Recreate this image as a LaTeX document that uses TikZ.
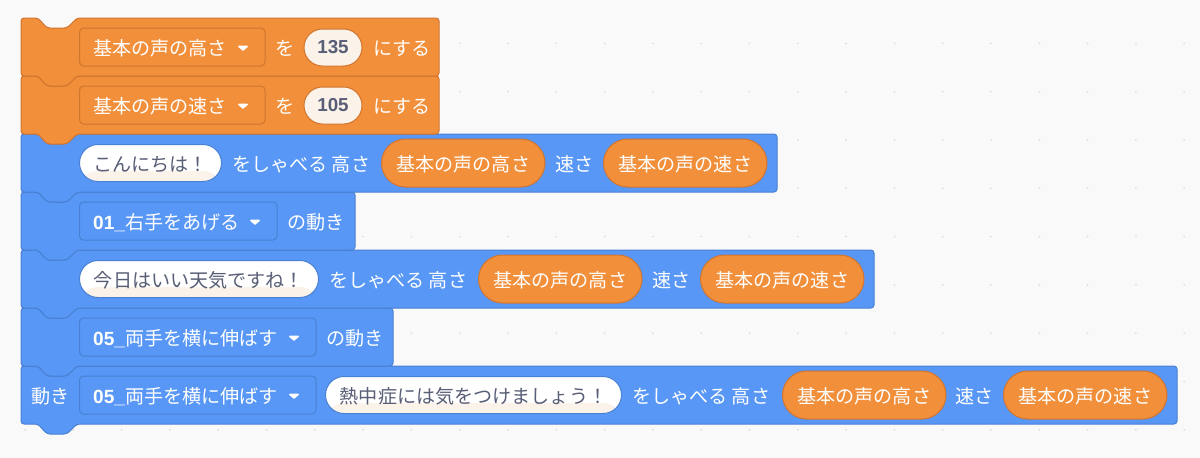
\documentclass[tikz,border=0pt]{standalone}
\usepackage{fontspec}
\setmainfont{Noto Sans CJK JP}
\newfontfamily\numfont{Liberation Sans}[BoldFont={Liberation Sans Bold}]
\usetikzlibrary{shapes.geometric}
\definecolor{sheet}{HTML}{F9F9F9}
\definecolor{griddot}{HTML}{DDDDDD}
\definecolor{varfill}{HTML}{F28F3A}
\definecolor{varedge}{HTML}{D07530}
\definecolor{talkfill}{HTML}{5897F5}
\definecolor{talkedge}{HTML}{4A80D2}
\definecolor{inkgrey}{HTML}{575E75}
\definecolor{cream}{HTML}{FBF3E9}
\newcommand{\blockshape}[3]{
	\draw[#1,shift={(0,#2)},rounded corners=3pt] (21,20) -- (21,0) -- (38,0) -- (47,10) -- (67,10) -- (77,0)
		-- (#3,0) -- (#3,58) -- (77,58) -- (67,68) -- (47,68) -- (38,58) -- (21,58) -- cycle;
}
\begin{document}
\begin{tikzpicture}[x=1pt,y=-1pt]
			\tikzstyle{varblock}=[fill=varfill,draw=varedge,line width=1pt]
			\tikzstyle{talkblock}=[fill=talkfill,draw=talkedge,line width=1pt]
			\tikzstyle{label}=[inner sep=0pt,anchor=west,text=white,font=\fontsize{19.1}{20}\selectfont,text height=19.5pt,text depth=3pt]
			\tikzstyle{varmenu}=[draw=varedge,line width=1pt,rounded corners=4pt,inner sep=0pt,minimum height=38pt,anchor=west]
			\tikzstyle{talkmenu}=[draw=talkedge,line width=1pt,rounded corners=4pt,inner sep=0pt,minimum height=38pt,anchor=west]
			\tikzstyle{menumark}=[isosceles triangle,isosceles triangle apex angle=100,shape border rotate=-90,fill=white,draw=white,line width=1.5pt,line join=round,inner sep=0pt,minimum height=3.5pt,minimum width=8pt]
			\tikzstyle{number}=[fill=cream,draw=varedge,line width=1pt,rounded corners=18.5pt,inner sep=0pt,minimum width=58pt,minimum height=37pt,text=inkgrey,font=\numfont\bfseries\fontsize{18.8}{20}\selectfont]
			\tikzstyle{speech}=[fill=white,draw=talkedge,line width=1pt,rounded corners=18.5pt,inner sep=0pt,minimum height=37pt,anchor=west,text=inkgrey,font=\fontsize{19.1}{20}\selectfont,text height=19.5pt,text depth=3pt,
				path picture={\fill[cream] ([yshift=-8pt]path picture bounding box.west) rectangle (path picture bounding box.south east);}]
			\tikzstyle{reporter}=[fill=varfill,draw=varedge,line width=1pt,rounded corners=24pt,inner sep=0pt,minimum width=163.5pt,minimum height=48pt,anchor=west,text=white,font=\fontsize{19.1}{20}\selectfont,text height=19.5pt,text depth=3pt]
			\useasboundingbox (0,0) rectangle (1200,458);
			\fill[sheet] (0,0) rectangle (1200,458);
			% dots of the work area
			\foreach \col in {0,...,24}
				\foreach \row in {0,...,8}
					\fill[griddot] (25+48.3*\col,43.4+48.3*\row) circle (1pt);
			% blocks, lowest first so that each tab lies on the next one
			\blockshape{talkblock}{366}{1177}
			\blockshape{talkblock}{308}{393}
			\blockshape{talkblock}{250}{874}
			\blockshape{talkblock}{192}{355}
			\blockshape{talkblock}{134}{777}
			\blockshape{varblock}{76}{439}
			\blockshape{varblock}{18}{439}
			% first block
			\node[varmenu,minimum width=185.5pt] (pitchmenu) at (79,47) {};
			\node[label] (pitchname) at (93,47) {基本の声の高さ};
			\node[menumark] (pitchmark) at (243,48) {};
			\node[label] (pitchto) at (275,47) {を};
			\node[number] (pitchvalue) at (333,47.5) {135};
			\node[label] (pitchset) at (373,47) {にする};
			% second block
			\node[varmenu,minimum width=185.5pt] (speedmenu) at (79,105) {};
			\node[label] (speedname) at (93,105) {基本の声の速さ};
			\node[menumark] (speedmark) at (243,106) {};
			\node[label] (speedto) at (275,105) {を};
			\node[number] (speedvalue) at (333,105.5) {105};
			\node[label] (speedset) at (373,105) {にする};
			% third block
			\node[speech,minimum width=142pt] (hello) at (79,163) {こんにちは！};
			\node[label] (hellosay) at (232,163) {をしゃべる 高さ};
			\node[reporter] (hellopitch) at (381,163) {基本の声の高さ};
			\node[label] (hellospeed) at (555,163) {速さ};
			\node[reporter] (hellorate) at (603,163) {基本の声の速さ};
			% fourth block
			\node[talkmenu,minimum width=197.5pt] (rightmenu) at (79,221) {};
			\node[label] (rightname) at (93,221) {{\numfont\bfseries 01\_}右手をあげる};
			\node[menumark] (rightmark) at (255,222) {};
			\node[label] (rightmove) at (287,221) {の動き};
			% fifth block
			\node[speech,minimum width=239pt] (weather) at (79,279) {今日はいい天気ですね！};
			\node[label] (weathersay) at (329,279) {をしゃべる 高さ};
			\node[reporter] (weatherpitch) at (478,279) {基本の声の高さ};
			\node[label] (weatherspeed) at (652,279) {速さ};
			\node[reporter] (weatherrate) at (700,279) {基本の声の速さ};
			% sixth block
			\node[talkmenu,minimum width=236.5pt] (armsmenu) at (79,337) {};
			\node[label] (armsname) at (93,337) {{\numfont\bfseries 05\_}両手を横に伸ばす};
			\node[menumark] (armsmark) at (294,338) {};
			\node[label] (armsmove) at (326,337) {の動き};
			% last block
			\node[label] (lastmove) at (31,395) {動き};
			\node[talkmenu,minimum width=236.5pt] (lastmenu) at (79,395) {};
			\node[label] (lastname) at (93,395) {{\numfont\bfseries 05\_}両手を横に伸ばす};
			\node[menumark] (lastmark) at (294,396) {};
			\node[speech,minimum width=296pt] (heat) at (325,395) {熱中症には気をつけましょう！};
			\node[label] (heatsay) at (632,395) {をしゃべる 高さ};
			\node[reporter] (heatpitch) at (782,395) {基本の声の高さ};
			\node[label] (heatspeed) at (955,395) {速さ};
			\node[reporter] (heatrate) at (1003,395) {基本の声の速さ};
		\end{tikzpicture}
\end{document}
